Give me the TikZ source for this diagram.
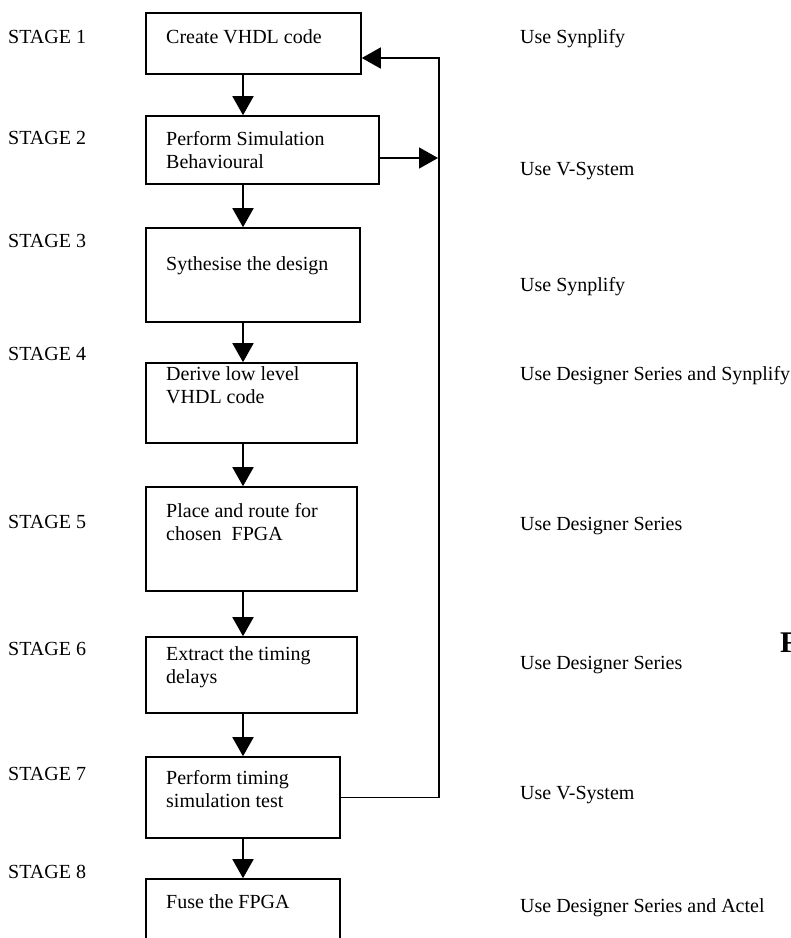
\documentclass[tikz,border=0pt]{standalone}
\usepackage{fontspec}
\setmainfont{Liberation Serif}
\usetikzlibrary{arrows.meta,positioning,calc}
\tikzset{
  stagebox/.style={draw,line width=1.6pt,inner sep=0pt},
  boxtext/.style={anchor=base west,align=left,inner sep=0pt,font=\fontsize{20}{22.5}\selectfont},
  sidetext/.style={anchor=base west,inner sep=0pt,font=\fontsize{20}{22.5}\selectfont},
  flow/.style={line width=1.6pt,-{Triangle[width=21pt,length=19pt]}}
}
\begin{document}
\begin{tikzpicture}[x=1pt,y=-1pt]
\useasboundingbox (0,0) rectangle (791,938);
\clip (0,0) rectangle (791,938);
% boxes
\node[stagebox,minimum width=215pt,minimum height=61pt] (b1) at (253.5,43.5) {};
\node[stagebox,minimum width=233pt,minimum height=68pt] (b2) at (262.5,150) {};
\node[stagebox,minimum width=214pt,minimum height=94pt] (b3) at (253,275) {};
\node[stagebox,minimum width=211pt,minimum height=80pt] (b4) at (251.5,403) {};
\node[stagebox,minimum width=211pt,minimum height=104pt] (b5) at (251.5,539) {};
\node[stagebox,minimum width=211pt,minimum height=76pt] (b6) at (251.5,675) {};
\node[stagebox,minimum width=194pt,minimum height=81pt] (b7) at (243,797.5) {};
\node[stagebox,minimum width=194pt,minimum height=81pt] (b8) at (243,919.5) {};
% box texts (base = last line)
\node[boxtext] (t1) at (166,43) {Create VHDL code};
\node[boxtext] (t2) at (166,168) {Perform Simulation\\Behavioural};
\node[boxtext] (t3) at (166,270) {Sythesise the design};
\node[boxtext] (t4) at (166,403) {Derive low level\\VHDL code};
\node[boxtext] (t5) at (166,540) {Place and route for\\chosen\ \ FPGA};
\node[boxtext] (t6) at (166,683) {Extract the timing\\delays};
\node[boxtext] (t7) at (166,807) {Perform timing\\simulation test};
\node[boxtext] (t8) at (166,908) {Fuse the FPGA};
% stage labels
\node[sidetext] (s1) at (8,43) {STAGE 1};
\node[sidetext] (s2) at (8,144) {STAGE 2};
\node[sidetext] (s3) at (8,247) {STAGE 3};
\node[sidetext] (s4) at (8,360) {STAGE 4};
\node[sidetext] (s5) at (8,528) {STAGE 5};
\node[sidetext] (s6) at (8,655) {STAGE 6};
\node[sidetext] (s7) at (8,780) {STAGE 7};
\node[sidetext] (s8) at (8,878) {STAGE 8};
% tools
\node[sidetext] (u1) at (520,43) {Use Synplify};
\node[sidetext] (u2) at (520,175) {Use V-System};
\node[sidetext] (u3) at (520,291) {Use Synplify};
\node[sidetext] (u4) at (520,380) {Use Designer Series and Synplify};
\node[sidetext] (u5) at (520,530) {Use Designer Series};
\node[sidetext] (u6) at (520,669) {Use Designer Series};
\node[sidetext] (u7) at (520,799) {Use V-System};
\node[sidetext] (u8) at (520,912) {Use Designer Series and Actel};
\node[anchor=base west,inner sep=0pt,font=\fontsize{30}{34}\selectfont\bfseries] (fig) at (780,652) {F};
% arrows
\coordinate (spine) at (243,0);
\coordinate (loop) at (439,0);
\foreach \a/\b in {b1/b2,b2/b3,b3/b4,b4/b5,b5/b6,b6/b7,b7/b8}
  \draw[flow] (\a.south -| spine) -- (\b.north -| spine);
\draw[flow] (b7.east) -| ([yshift=-14.5pt]b1.east -| loop) -- ([yshift=-14.5pt]b1.east);
\draw[flow] ([yshift=-8pt]b2.east) -- ([yshift=-8pt,xshift=-1pt]b2.east -| loop);
\end{tikzpicture}
\end{document}
